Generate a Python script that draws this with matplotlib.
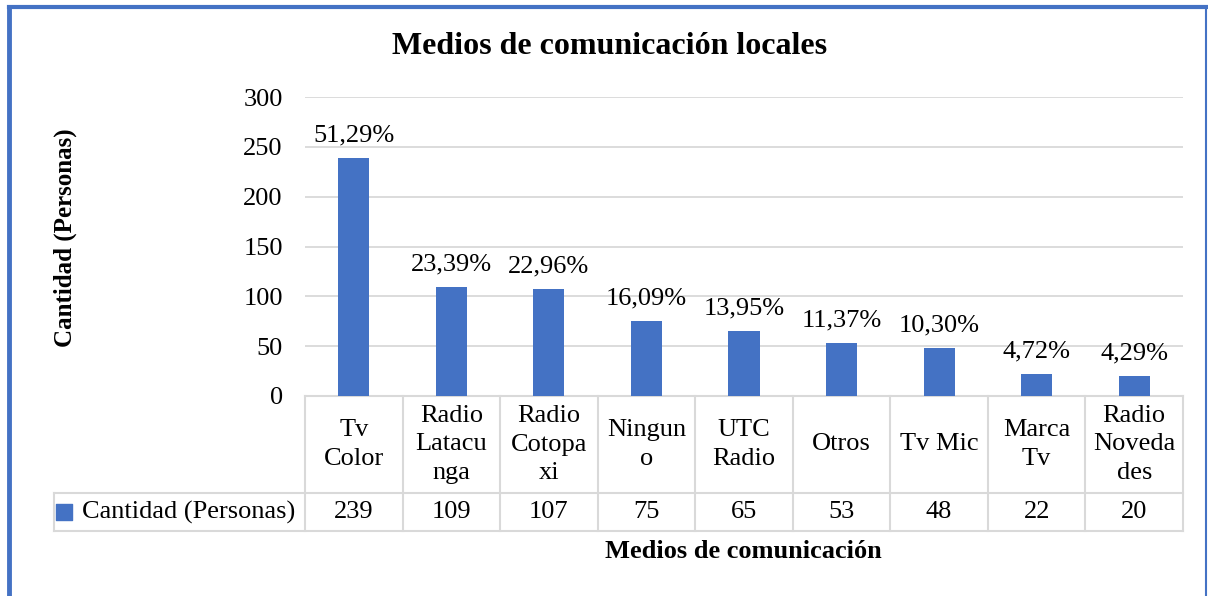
import matplotlib.pyplot as plt
from matplotlib.transforms import blended_transform_factory
import numpy as np

# data
categorias = ["Tv\nColor", "Radio\nLatacu\nnga", "Radio\nCotopa\nxi", "Ningun\no",
              "UTC\nRadio", "Otros", "Tv Mic", "Marca\nTv", "Radio\nNoveda\ndes"]
cantidad = [239, 109, 107, 75, 65, 53, 48, 22, 20]
porcentajes = ["51,29%", "23,39%", "22,96%", "16,09%", "13,95%",
               "11,37%", "10,30%", "4,72%", "4,29%"]
serie = "Cantidad (Personas)"

azul = "#4472C4"
gris = "#D9D9D9"
plt.rcParams['font.family'] = ['Liberation Serif', 'DejaVu Serif']
fs = 19

W, H = 1208, 596
fig = plt.figure(figsize=(W / 100, H / 100), dpi=100)

# plot area in pixels
x0, x1, ytop, ybot = 305, 1183, 97, 396
ax = fig.add_axes([x0 / W, 1 - ybot / H, (x1 - x0) / W, (ybot - ytop) / H])

x = np.arange(len(categorias))
ax.bar(x, cantidad, width=0.32, color=azul, zorder=3)
ax.set_xlim(-0.5, len(categorias) - 0.5)
ax.set_ylim(0, 300)
ax.set_yticks(range(0, 301, 50))
ax.yaxis.grid(True, color=gris, linewidth=1.3)
ax.set_axisbelow(True)
ax.tick_params(axis='y', length=0, labelsize=fs, pad=16)
ax.set_xticks([])
for s in ax.spines.values():
    s.set_visible(False)

for xi, v, p in zip(x, cantidad, porcentajes):
    ax.annotate(p, (xi, v), xytext=(0, 12), textcoords="offset points",
                ha="center", va="baseline", fontsize=fs)

# data table below axes
hpx = ybot - ytop
r1 = -(493 - ybot) / hpx
r2 = -(531 - ybot) / hpx
tr = blended_transform_factory(ax.transData, ax.transAxes)
cw = (x1 - x0) / len(categorias)
xleg = -0.5 - (x0 - 54) / cw
kw = dict(transform=tr, color=gris, linewidth=1.5, clip_on=False)
ax.plot([-0.5, len(categorias) - 0.5], [0, 0], **kw)
ax.plot([xleg, len(categorias) - 0.5], [r1, r1], **kw)
ax.plot([xleg, len(categorias) - 0.5], [r2, r2], **kw)
ax.plot([xleg, xleg], [r1, r2], **kw)
for b in np.arange(-0.5, len(categorias), 1.0):
    ax.plot([b, b], [0, r2], **kw)

for xi, c, v in zip(x, categorias, cantidad):
    ax.text(xi, r1 / 2, c, transform=tr, ha="center", va="center",
            fontsize=fs, linespacing=1.4)
    ax.text(xi, (r1 + r2) / 2, str(v), transform=tr, ha="center",
            va="center", fontsize=fs)

# legend key in table
ax.scatter([xleg + 0.1], [(r1 + r2) / 2], marker="s", s=120, color=azul,
           transform=tr, clip_on=False)
ax.text(xleg + 0.285, (r1 + r2) / 2, serie, transform=tr, ha="left",
        va="center", fontsize=fs)

fig.text(610 / W, 1 - 47 / H, "Medios de comunicación locales", ha="center",
         va="center", fontsize=23, fontweight="bold")
fig.text(743 / W, 1 - 552 / H, "Medios de comunicación", ha="center",
         va="center", fontsize=fs, fontweight="bold")
fig.text(65 / W, 1 - 238 / H, "Cantidad (Personas)", ha="center",
         va="center", rotation=90, fontsize=18, fontweight="bold")

# outer border
fig.add_artist(plt.Line2D([9 / W, 9 / W], [0, 1 - 7 / H], color=azul,
                          linewidth=3.5, transform=fig.transFigure))
fig.add_artist(plt.Line2D([9 / W, 1206 / W], [1 - 7 / H, 1 - 7 / H],
                          color=azul, linewidth=3, transform=fig.transFigure))
fig.add_artist(plt.Line2D([1206 / W, 1206 / W], [0, 1 - 7 / H], color=azul,
                          linewidth=1.5, transform=fig.transFigure))

fig.savefig("out.png", dpi=100)
